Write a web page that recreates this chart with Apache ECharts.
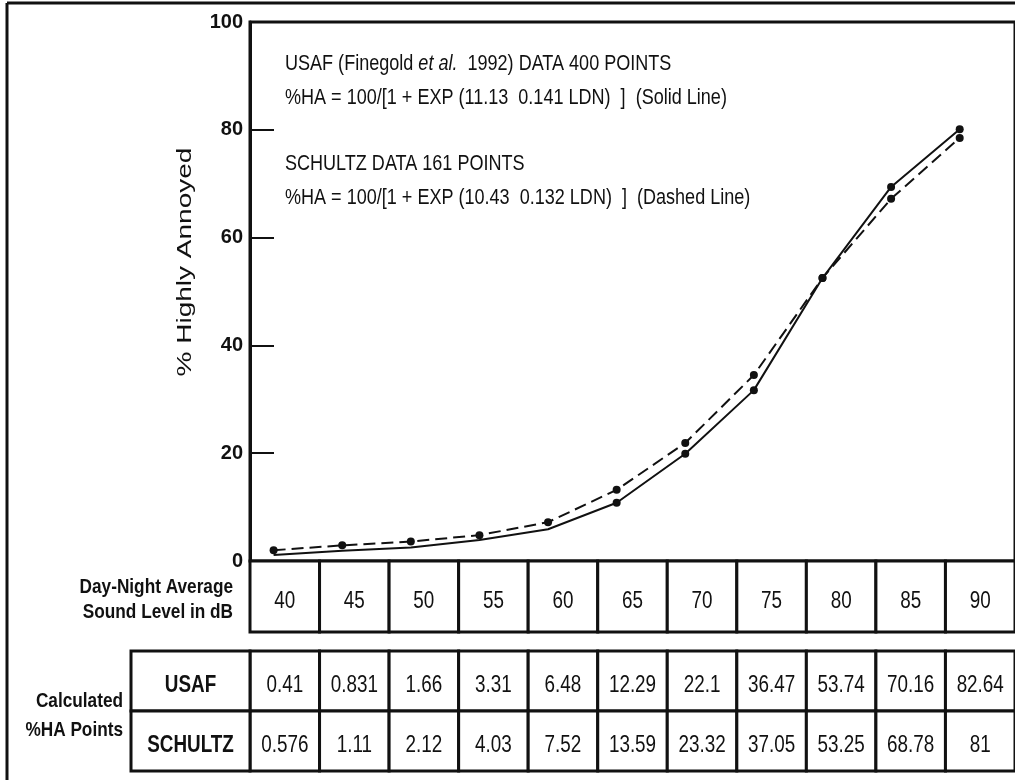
<!DOCTYPE html>
<html>
<head>
<meta charset="utf-8">
<script src="https://cdn.jsdelivr.net/npm/echarts@6/dist/echarts.min.js"></script>
<style>
  html, body { margin: 0; padding: 0; background: #fff; }
  #main { width: 1015px; height: 780px; }
</style>
</head>
<body>
<div id="main"></div>
<script>
// sound levels (dB) used on the x axis and in the tables
var dbLevels = [40, 45, 50, 55, 60, 65, 70, 75, 80, 85, 90];

// values
var usafCurve    = [1.1, 1.9, 2.5, 3.9, 5.9, 10.8, 19.9, 31.7, 52.5, 69.4, 80.1];
var schultzCurve = [2.0, 2.9, 3.6, 4.8, 7.2, 13.2, 21.9, 34.5, 52.5, 67.2, 78.5];

// calculated %HA points printed in the table
var usafTable    = [0.41, 0.831, 1.66, 3.31, 6.48, 12.29, 22.1, 36.47, 53.74, 70.16, 82.64];
var schultzTable = [0.576, 1.11, 2.12, 4.03, 7.52, 13.59, 23.32, 37.05, 53.25, 68.78, 81];

var rowNames = ['USAF', 'SCHULTZ'];

var FONT = "'Liberation Sans', Arial, sans-serif";
var INK = '#111';
var NARROW = 0.82;   // no condensed font installed, so squeeze the text

var myChart = echarts.init(document.getElementById('main'));

function pairs(vals) {
    return dbLevels.map(function (d, i) { return [d, vals[i]]; });
}

// one bordered table cell with its text, placed through the axes
function cellRenderer(getText, bold) {
    return function (params, api) {
        var c = api.coord([api.value(0), api.value(1)]);
        var s = api.size([1, 1]);
        return {
            type: 'group',
            children: [{
                type: 'rect',
                shape: { x: c[0] - s[0] / 2, y: c[1] - s[1] / 2, width: s[0], height: s[1] },
                style: { fill: '#fff', stroke: INK, lineWidth: 3 }
            }, {
                type: 'text',
                x: c[0],
                y: c[1] + 5,
                scaleX: NARROW,
                style: {
                    text: getText(params.dataIndex),
                    fontFamily: FONT,
                    fontSize: 23,
                    fontWeight: bold ? 'bold' : 'normal',
                    fill: INK,
                    align: 'center',
                    verticalAlign: 'middle'
                }
            }]
        };
    };
}

function note(text, x, y, extra) {
    var st = {
        text: text, fontFamily: FONT, fontSize: 22, fill: INK, verticalAlign: 'middle'
    };
    for (var k in extra) st[k] = extra[k];
    return { type: 'text', x: x, y: y, scaleX: NARROW, style: st };
}

var dbCells = dbLevels.map(function (d, i) { return [i, 0]; });
var tableCells = [];
rowNames.forEach(function (r, ri) {
    dbLevels.forEach(function (d, i) { tableCells.push([i, ri]); });
});
var headerCells = rowNames.map(function (r, ri) { return [0, ri]; });

var option = {
    animation: false,
    backgroundColor: '#fff',
    grid: [
        { left: 250, top: 22, width: 776, height: 539, show: true, borderColor: INK, borderWidth: 3 },
        { left: 250, top: 561, width: 776, height: 71 },
        { left: 250, top: 651, width: 776, height: 120 },
        { left: 131, top: 651, width: 119, height: 120 }
    ],
    xAxis: [
        { gridIndex: 0, type: 'value', min: 38.28, max: 94.03, show: false },
        { gridIndex: 1, type: 'category', data: dbLevels, show: false },
        { gridIndex: 2, type: 'category', data: dbLevels, show: false },
        { gridIndex: 3, type: 'category', data: [''], show: false }
    ],
    yAxis: [
        {
            gridIndex: 0, type: 'value', min: 0, max: 100, interval: 20,
            axisLine: { show: true, lineStyle: { color: INK, width: 3 } },
            axisTick: { show: true, inside: true, length: 24, lineStyle: { color: INK, width: 2 } },
            splitLine: { show: false },
            axisLabel: {
                color: INK, fontFamily: FONT, fontWeight: 'bold', fontSize: 20, margin: 7,
                padding: [12, 0, 0, 0]
            }
        },
        { gridIndex: 1, type: 'category', data: [''], show: false },
        { gridIndex: 2, type: 'category', data: rowNames, inverse: true, show: false },
        { gridIndex: 3, type: 'category', data: rowNames, inverse: true, show: false }
    ],
    graphic: [
        { type: 'line', shape: { x1: 7, y1: 3, x2: 1015, y2: 3 }, style: { stroke: INK, lineWidth: 3 } },
        { type: 'line', shape: { x1: 7, y1: 3, x2: 7, y2: 780 }, style: { stroke: INK, lineWidth: 3 } },
        {
            type: 'text', x: 185, y: 262, rotation: Math.PI / 2, scaleX: 1.4,
            style: { text: '% Highly Annoyed', fontFamily: FONT, fontSize: 20, fill: INK, align: 'center', verticalAlign: 'middle' }
        },
        note('USAF (Finegold {i|et al.}  1992) DATA 400 POINTS', 285, 64, {
            rich: { i: { fontStyle: 'italic', fontFamily: FONT, fontSize: 22, fill: INK } }
        }),
        note('%HA = 100/[1 + EXP (11.13  0.141 LDN)  ]  (Solid Line)', 285, 98),
        note('SCHULTZ DATA 161 POINTS', 285, 164),
        note('%HA = 100/[1 + EXP (10.43  0.132 LDN)  ]  (Dashed Line)', 285, 198),
        note('Day-Night Average\nSound Level in dB', 233, 600, {
            fontSize: 21, fontWeight: 'bold', align: 'right', lineHeight: 25
        }),
        note('Calculated\n%HA Points', 123, 716, {
            fontSize: 21, fontWeight: 'bold', align: 'right', lineHeight: 29
        })
    ],
    series: [
        {
            name: 'USAF',
            type: 'line',
            xAxisIndex: 0, yAxisIndex: 0,
            data: pairs(usafCurve),
            lineStyle: { color: INK, width: 2 },
            itemStyle: { color: INK },
            symbol: 'circle',
            // the USAF curve only carries dots from 65 dB up
            symbolSize: function (v, p) { return p.dataIndex < 5 ? 0 : 8; },
            z: 3
        },
        {
            name: 'SCHULTZ',
            type: 'line',
            xAxisIndex: 0, yAxisIndex: 0,
            data: pairs(schultzCurve),
            lineStyle: { color: INK, width: 2, type: [12, 6] },
            itemStyle: { color: INK },
            symbol: 'circle',
            symbolSize: 8,
            z: 3
        },
        {
            type: 'custom',
            xAxisIndex: 1, yAxisIndex: 1,
            data: dbCells,
            renderItem: cellRenderer(function (i) { return String(dbLevels[i]); }, false)
        },
        {
            type: 'custom',
            xAxisIndex: 2, yAxisIndex: 2,
            data: tableCells,
            renderItem: cellRenderer(function (i) {
                var row = Math.floor(i / dbLevels.length), col = i % dbLevels.length;
                return String(row === 0 ? usafTable[col] : schultzTable[col]);
            }, false)
        },
        {
            type: 'custom',
            xAxisIndex: 3, yAxisIndex: 3,
            data: headerCells,
            renderItem: cellRenderer(function (i) { return rowNames[i]; }, true)
        }
    ]
};

myChart.setOption(option);
</script>
</body>
</html>
